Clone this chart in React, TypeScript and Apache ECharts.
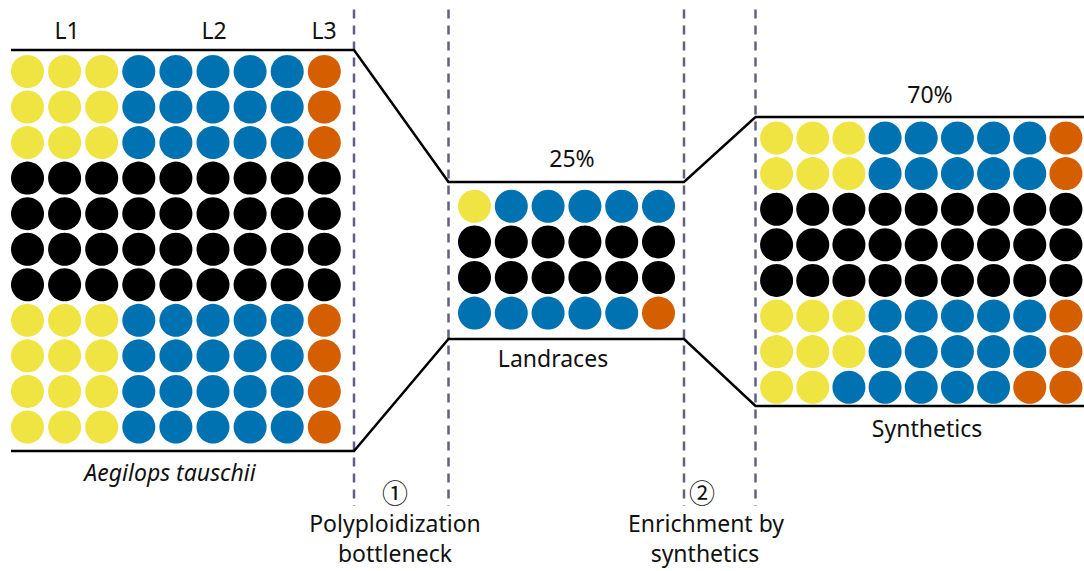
import React, { useEffect, useRef } from "react";
import * as echarts from "echarts";

// Y = L1 (yellow), B = L2 (blue), O = L3 (orange), K = black
const aegilopsRows = [
  "YYYBBBBBO",
  "YYYBBBBBO",
  "YYYBBBBBO",
  "KKKKKKKKK",
  "KKKKKKKKK",
  "KKKKKKKKK",
  "KKKKKKKKK",
  "YYYBBBBBO",
  "YYYBBBBBO",
  "YYYBBBBBO",
  "YYYBBBBBO",
];
const landraceRows = ["YBBBBB", "KKKKKK", "KKKKKK", "BBBBBO"];
const syntheticRows = [
  "YYYBBBBBO",
  "YYYBBBBBO",
  "KKKKKKKKK",
  "KKKKKKKKK",
  "KKKKKKKKK",
  "YYYBBBBBO",
  "YYYBBBBBO",
  "YYBBBBBOO",
];
const lineageLabels = ["L1", "L2", "L3"];
const percentLabels = ["25%", "70%"];
const blockLabels = ["Aegilops tauschii", "Landraces", "Synthetics"];
const stepLabels = ["①", "②"];
const stepTexts = [
  ["Polyploidization", "bottleneck"],
  ["Enrichment by", "synthetics"],
];

const COLORS: Record<string, string> = {
  Y: "#F0E442",
  B: "#0072B2",
  O: "#D55E00",
  K: "#000000",
};

const FONT = '"Noto Sans", "DejaVu Sans", sans-serif';

type Block = { rows: string[]; left: number; top: number; dx: number; dy: number };

const blocks: Block[] = [
  { rows: aegilopsRows, left: 8.95, top: 53.7, dx: 37.1, dy: 35.55 },
  { rows: landraceRows, left: 456.1, top: 188.5, dx: 36.8, dy: 35.6 },
  { rows: syntheticRows, left: 758.5, top: 120.2, dx: 37, dy: 35.6 },
];

export default function App() {
  const ref = useRef<HTMLDivElement>(null);
  useEffect(() => {
    if (!ref.current) return;
    const chart = echarts.init(ref.current, undefined, { renderer: "svg" });

    const grids: any[] = [];
    const xAxes: any[] = [];
    const yAxes: any[] = [];
    const series: any[] = [];
    blocks.forEach((b, i) => {
      const nCols = b.rows[0].length;
      const nRows = b.rows.length;
      grids.push({
        left: b.left,
        top: b.top,
        width: nCols * b.dx,
        height: nRows * b.dy,
        containLabel: false,
      });
      xAxes.push({
        type: "category",
        gridIndex: i,
        data: Array.from({ length: nCols }, (_, k) => String(k)),
        show: false,
      });
      yAxes.push({
        type: "category",
        gridIndex: i,
        inverse: true,
        data: Array.from({ length: nRows }, (_, k) => String(k)),
        show: false,
      });
      const data: any[] = [];
      b.rows.forEach((row, r) => {
        row.split("").forEach((code, c) => {
          data.push({ value: [c, r], itemStyle: { color: COLORS[code], opacity: 1 } });
        });
      });
      series.push({
        type: "scatter",
        xAxisIndex: i,
        yAxisIndex: i,
        symbol: "circle",
        symbolSize: 33,
        itemStyle: { opacity: 1 },
        data,
        silent: true,
        clip: false,
      });
    });

    const txt = (text: string, x: number, y: number, size = 23, extra: any = {}) => ({
      type: "text",
      x,
      y,
      silent: true,
      style: {
        text,
        fill: "#111",
        font: `${extra.italic ? "italic " : ""}${size}px ${extra.family || FONT}`,
        align: "center",
        verticalAlign: "middle",
        textAlign: "center",
        textVerticalAlign: "middle",
      },
    });

    const dashX = [354, 448.5, 684, 755.5];
    const graphic: any[] = [
      ...dashX.map((x) => ({
        type: "line",
        silent: true,
        shape: { x1: x, y1: 9.5, x2: x, y2: 506 },
        style: { stroke: "#5F6182", lineWidth: 2.5, lineDash: [9, 7] },
      })),
      {
        type: "polyline",
        silent: true,
        shape: {
          points: [
            [11, 50],
            [354, 50],
            [448.5, 182],
            [684, 182],
            [755.5, 117],
            [1090, 117],
          ],
        },
        style: { stroke: "#000", lineWidth: 2.5, fill: null },
      },
      {
        type: "polyline",
        silent: true,
        shape: {
          points: [
            [11, 451],
            [354, 451],
            [448.5, 339],
            [684, 339],
            [755.5, 406],
            [1090, 406],
          ],
        },
        style: { stroke: "#000", lineWidth: 2.5, fill: null },
      },
      txt(lineageLabels[0], 67, 30),
      txt(lineageLabels[1], 214, 30),
      txt(lineageLabels[2], 324, 30),
      txt(percentLabels[0], 572, 158),
      txt(percentLabels[1], 930, 94),
      txt(blockLabels[0], 170, 472, 23, { italic: true }),
      txt(blockLabels[1], 553, 358),
      txt(blockLabels[2], 927, 428),
      txt(stepLabels[0], 395, 491, 26, { family: '"Noto Sans CJK JP", "Noto Sans CJK SC", sans-serif' }),
      txt(stepLabels[1], 702, 491, 26, { family: '"Noto Sans CJK JP", "Noto Sans CJK SC", sans-serif' }),
      txt(stepTexts[0][0], 395, 523),
      txt(stepTexts[0][1], 395, 553),
      txt(stepTexts[1][0], 706, 523),
      txt(stepTexts[1][1], 705, 553),
    ];

    chart.setOption({
      animation: false,
      backgroundColor: "#ffffff",
      grid: grids,
      xAxis: xAxes,
      yAxis: yAxes,
      series,
      graphic,
    });
    return () => chart.dispose();
  }, []);
  return (
    <div
      ref={ref}
      style={{ position: "fixed", left: 0, top: 0, width: 1084, height: 571 }}
    />
  );
}
